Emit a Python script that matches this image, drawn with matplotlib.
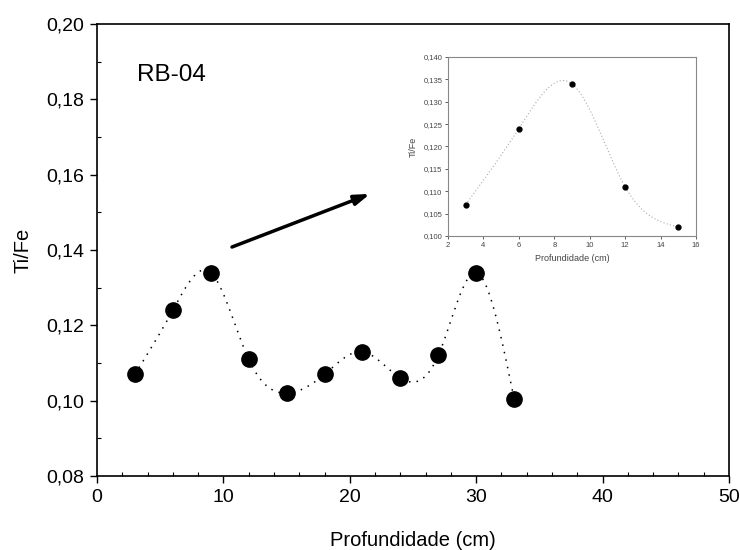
import numpy as np
import matplotlib
matplotlib.use("Agg")
import matplotlib.pyplot as plt
from matplotlib.ticker import MultipleLocator, FuncFormatter

plt.rcParams['font.family'] = ['Liberation Sans', 'DejaVu Sans']

# data
depth = [3, 6, 9, 12, 15, 18, 21, 24, 27, 30, 33]
ti_fe = [0.107, 0.124, 0.134, 0.111, 0.102, 0.107, 0.113, 0.106, 0.112, 0.134, 0.1005]

inset_depth = [3, 6, 9, 12, 15]
inset_ti_fe = [0.107, 0.124, 0.134, 0.111, 0.102]

sample_name = "RB-04"
x_label = "Profundidade (cm)"
y_label = "Ti/Fe"


def natural_spline(x, y, n=300):
    # plain natural cubic spline, only used to draw the smooth connecting curve
    x = np.asarray(x, float)
    y = np.asarray(y, float)
    k = len(x)
    h = np.diff(x)
    A = np.zeros((k, k))
    b = np.zeros(k)
    A[0, 0] = A[-1, -1] = 1
    for i in range(1, k - 1):
        A[i, i - 1] = h[i - 1]
        A[i, i] = 2 * (h[i - 1] + h[i])
        A[i, i + 1] = h[i]
        b[i] = 6 * ((y[i + 1] - y[i]) / h[i] - (y[i] - y[i - 1]) / h[i - 1])
    m = np.linalg.solve(A, b)
    xs = np.linspace(x[0], x[-1], n)
    idx = np.clip(np.searchsorted(x, xs) - 1, 0, k - 2)
    x0, x1 = x[idx], x[idx + 1]
    hh = x1 - x0
    t0, t1 = x1 - xs, xs - x0
    ys = (m[idx] * t0 ** 3 + m[idx + 1] * t1 ** 3) / (6 * hh) \
        + (y[idx] / hh - m[idx] * hh / 6) * t0 \
        + (y[idx + 1] / hh - m[idx + 1] * hh / 6) * t1
    return xs, ys


def comma(dec):
    return FuncFormatter(lambda v, p: f"{v:.{dec}f}".replace(".", ","))


fig = plt.figure(figsize=(7.4, 5.5), dpi=100)
ax = fig.add_axes([0.1311, 0.1345, 0.854, 0.8218])

xs, ys = natural_spline(depth, ti_fe)
ax.plot(xs, ys, color="black", lw=1.1, linestyle=(0, (1, 4)))
ax.plot(depth, ti_fe, "o", color="black", markersize=11, zorder=3)

ax.set_xlim(0, 50)
ax.set_ylim(0.08, 0.20)
ax.xaxis.set_major_locator(MultipleLocator(10))
ax.xaxis.set_minor_locator(MultipleLocator(2))
ax.yaxis.set_major_locator(MultipleLocator(0.02))
ax.yaxis.set_minor_locator(MultipleLocator(0.01))
ax.yaxis.set_major_formatter(comma(2))
ax.tick_params(which="major", direction="out", length=5, width=1, labelsize=14, pad=4)
ax.tick_params(which="minor", direction="in", length=3, width=0.8)
for s in ax.spines.values():
    s.set_linewidth(1.2)
ax.set_xlabel(x_label, fontsize=14.5, labelpad=18)
ax.set_ylabel(y_label, fontsize=14.5, labelpad=10)

ax.text(3.16, 0.1865, sample_name, fontsize=17.5, va="center", ha="left")
ax.annotate("", xy=(21.6, 0.1549), xytext=(10.68, 0.1408),
            arrowprops=dict(arrowstyle="-|>,head_length=0.9,head_width=0.3",
                            color="black", lw=2.5, shrinkA=0, shrinkB=0))

# inset
grey = "#444444"
ins = fig.add_axes([0.6054, 0.5709, 0.3351, 0.3255])
xs2, ys2 = natural_spline(inset_depth, inset_ti_fe)
ins.plot(xs2, ys2, color="#aaaaaa", lw=0.8, linestyle=(0, (1, 2)))
ins.plot(inset_depth, inset_ti_fe, "o", color="black", markersize=3.5, zorder=3)
ins.set_xlim(2, 16)
ins.set_ylim(0.100, 0.140)
ins.xaxis.set_major_locator(MultipleLocator(2))
ins.yaxis.set_major_locator(MultipleLocator(0.005))
ins.yaxis.set_major_formatter(comma(3))
ins.tick_params(direction="out", length=2, width=0.6, labelsize=5.5,
                colors=grey, pad=2)
for s in ins.spines.values():
    s.set_color("#888888")
    s.set_linewidth(0.8)
ins.set_xlabel(x_label, fontsize=6.5, color=grey, labelpad=4)
ins.set_ylabel(y_label, fontsize=6.5, color=grey, labelpad=4)

fig.savefig("out.png", dpi=100)
